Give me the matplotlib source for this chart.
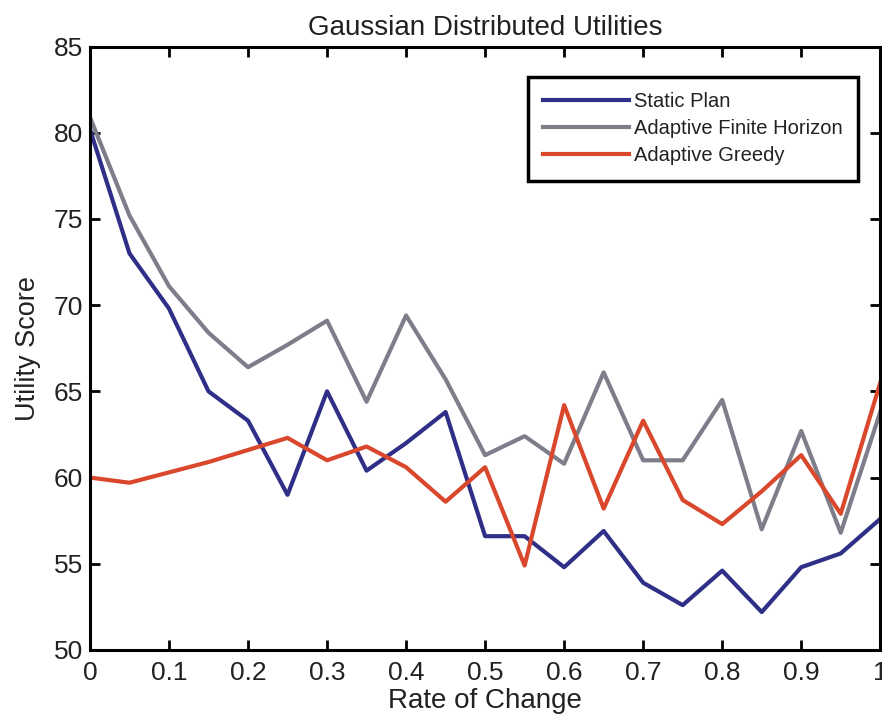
import numpy as np
import matplotlib.pyplot as plt

plt.rcParams['font.family'] = ['Liberation Sans', 'DejaVu Sans']

# rate of change values (x axis)
rate = [0.0, 0.05, 0.1, 0.15, 0.2, 0.25, 0.3, 0.35, 0.4, 0.45, 0.5,
        0.55, 0.6, 0.65, 0.7, 0.75, 0.8, 0.85, 0.9, 0.95, 1.0]

static_plan = [80.2, 73.0, 69.8, 65.0, 63.3, 59.0, 65.0, 60.4, 62.0, 63.8, 56.6,
               56.6, 54.8, 56.9, 53.9, 52.6, 54.6, 52.2, 54.8, 55.6, 57.6]
adaptive_finite = [80.9, 75.2, 71.1, 68.4, 66.4, 67.7, 69.1, 64.4, 69.4, 65.7, 61.3,
                   62.4, 60.8, 66.1, 61.0, 61.0, 64.5, 57.0, 62.7, 56.8, 63.8]
adaptive_greedy = [60.0, 59.7, 60.3, 60.9, 61.6, 62.3, 61.0, 61.8, 60.6, 58.6, 60.6,
                   54.9, 64.2, 58.2, 63.3, 58.7, 57.3, 59.2, 61.3, 57.9, 65.5]

x_ticks = [0, 0.1, 0.2, 0.3, 0.4, 0.5, 0.6, 0.7, 0.8, 0.9, 1]
x_tick_labels = ['0', '0.1', '0.2', '0.3', '0.4', '0.5', '0.6', '0.7', '0.8', '0.9', '1']
y_ticks = [50, 55, 60, 65, 70, 75, 80, 85]

fig = plt.figure(figsize=(8.82, 7.21), dpi=100)
ax = fig.add_axes([0.102, 0.0985, 0.896, 0.837])

ax.plot(rate, static_plan, color='#2f2f88', linewidth=3.0, label='Static Plan')
ax.plot(rate, adaptive_finite, color='#7d7e8a', linewidth=3.0, label='Adaptive Finite Horizon')
ax.plot(rate, adaptive_greedy, color='#d9472c', linewidth=3.0, label='Adaptive Greedy')

ax.set_xlim(0, 1)
ax.set_ylim(50, 85)
ax.set_xticks(x_ticks)
ax.set_xticklabels(x_tick_labels)
ax.set_yticks(y_ticks)

# matlab-style box with inward ticks on all sides
ax.tick_params(direction='in', length=7, width=2, top=True, right=True,
               labelsize=19, labelcolor='#222222')
ax.tick_params(axis='x', pad=8)
ax.tick_params(axis='y', pad=5)
for spine in ax.spines.values():
    spine.set_linewidth(2.2)

ax.set_title('Gaussian Distributed Utilities', fontsize=20, pad=8, color='#222222')
ax.set_xlabel('Rate of Change', fontsize=20, labelpad=2, color='#222222')
ax.set_ylabel('Utility Score', fontsize=19.5, labelpad=9, color='#222222')

leg = ax.legend(loc='upper right', bbox_to_anchor=(0.972, 0.949), borderaxespad=0,
                fontsize=14.5, handlelength=4.3, handletextpad=0.25, labelspacing=0.4,
                borderpad=0.75, fancybox=False, framealpha=1, edgecolor='black')
leg.get_frame().set_linewidth(2.5)
for txt in leg.get_texts():
    txt.set_color('#222222')

plt.savefig('out.png')
